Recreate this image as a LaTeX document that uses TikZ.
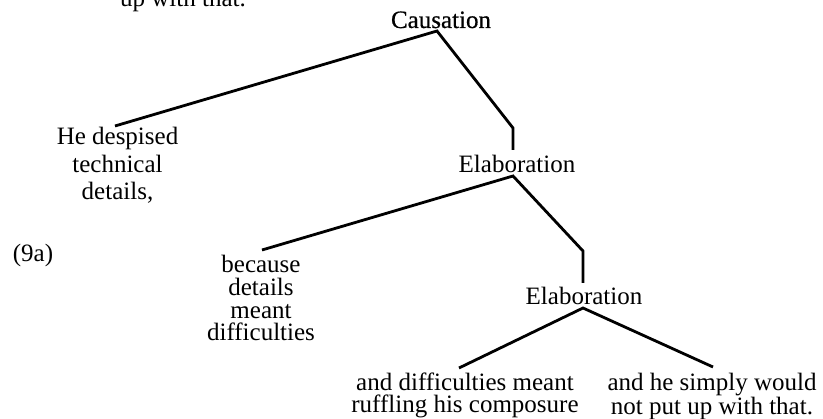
\documentclass[tikz,border=0pt]{standalone}
\usepackage{fontspec}
\setmainfont{Liberation Serif}
\newfontfamily\heavyserif[FakeBold=0.6]{Liberation Serif}
\begin{document}
\begin{tikzpicture}[x=1pt,y=-1pt,
  word/.style={inner sep=0pt, font=\fontsize{25}{27}\selectfont},
  relation/.style={word, anchor=base},
  leaf/.style={word, anchor=north, align=center},
  branch/.style={line width=2.8pt, line join=miter}]
\useasboundingbox (0,0) rectangle (823,419);
\clip (0,0) rectangle (823,419);

% relation labels
\node[relation] (tail) at (183,7) {up with that.};
\node[relation, font=\fontsize{25}{27}\heavyserif] (causation) at (441,28) {Causation};
\node[relation] (elab1) at (517,173) {Elaboration};
\node[relation] (elab2) at (584,305) {Elaboration};
\node[relation] (label) at (33,262) {(9a)};

% leaves
\node[leaf, font=\fontsize{25}{27.5}\selectfont] (despised) at (117.5,127) {He despised\\technical\\details,};
\node[leaf, font=\fontsize{25}{22.8}\selectfont] (because) at (261,255) {because\\details\\meant\\difficulties};
\node[leaf, font=\fontsize{25}{22}\selectfont] (ruffling) at (465,373) {and difficulties meant\\ruffling his composure};
\node[leaf, font=\fontsize{25}{22}\selectfont] (putup) at (712,373) {and he simply would\\not put up with that.};

% attachment points of the branches
\coordinate (causation-foot) at (437,31);
\coordinate (despised-top) at (115,126);
\coordinate (elab1-knee) at (513,128);
\coordinate (elab1-top) at (513,150);
\coordinate (elab1-foot) at (513,176);
\coordinate (because-top) at (262,250);
\coordinate (elab2-knee) at (583,251);
\coordinate (elab2-top) at (583,283);
\coordinate (elab2-foot) at (583,308);
\coordinate (ruffling-top) at (459,368);
\coordinate (putup-top) at (713,367);

% tree branches
\draw[branch] (despised-top) -- (causation-foot) -- (elab1-knee) -- (elab1-top);
\draw[branch] (because-top) -- (elab1-foot) -- (elab2-knee) -- (elab2-top);
\draw[branch] (ruffling-top) -- (elab2-foot) -- (putup-top);
\end{tikzpicture}
\end{document}
